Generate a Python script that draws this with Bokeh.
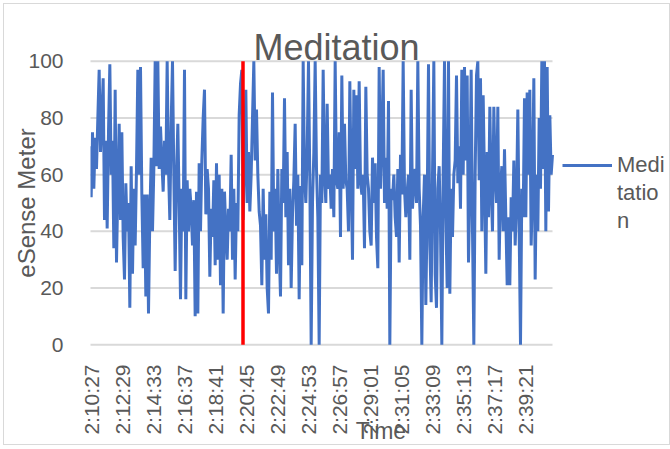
import math
from bokeh.plotting import figure
from bokeh.models import FixedTicker, Legend, LegendItem, Range1d
from bokeh.embed import file_html
from bokeh.resources import INLINE

# ---- data (eSense meditation values, 0-100) ----
meditation = [
    # 2:10 - 2:18
    65, 70, 52, 75, 55, 73, 62, 80, 97, 68, 80, 94, 44, 72, 41, 75, 99, 60, 72, 34,
    90, 29, 55, 78, 44, 75, 38, 23, 57, 40, 50, 13, 63, 25, 55, 35, 62, 97, 60, 98,
    53, 27, 53, 17, 53, 11, 45, 66, 40, 62, 100, 63, 100, 62, 77, 65, 54, 72, 60, 100,
    62, 44, 78, 100, 60, 26, 60, 78, 50, 16, 55, 40, 97, 16, 58, 40, 55, 48, 35, 51,
    10, 54, 11, 64, 40, 65, 80, 90, 46,
    # 2:18 - 2:26
    62, 55, 24, 48, 38, 58, 28, 64, 30, 60, 21, 55, 11, 54, 40, 30, 48, 40, 67, 30,
    55, 23, 50, 40, 81, 92, 97, 44, 65, 90, 50, 68, 47, 60, 80, 100, 65, 83, 60, 47,
    42, 21, 55, 30, 46, 20, 11, 54, 30, 89, 40, 55, 25, 62, 35, 17, 62, 50, 87, 45,
    68, 28, 55, 20, 46, 58, 78, 42, 60, 16, 56, 28, 100, 60, 50, 68, 100, 58, 0, 50,
    68, 100, 62, 45, 0, 60, 50,
    # 2:26 - 2:34
    97, 60, 50, 85, 55, 60, 48, 62, 45, 100, 58, 55, 75, 38, 95, 55, 78, 58, 55, 40,
    93, 58, 30, 90, 62, 88, 55, 93, 58, 53, 60, 34, 91, 60, 55, 40, 35, 66, 50, 64,
    38, 27, 98, 55, 72, 97, 50, 66, 48, 86, 0, 55, 51, 60, 45, 38, 62, 29, 67, 53,
    100, 55, 45, 54, 60, 30, 90, 48, 57, 62, 50, 100, 55, 42, 0, 45, 60, 14, 48, 99,
    35, 15, 60, 100, 25, 13, 55,
    # 2:34 - 2:41
    63, 40, 0, 60, 100, 45, 20, 100, 18, 55, 38, 60, 65, 95, 57, 70, 48, 97, 60, 98,
    65, 95, 29, 55, 97, 40, 0, 60, 95, 100, 58, 94, 40, 88, 58, 25, 68, 45, 84, 55,
    40, 84, 60, 50, 84, 30, 55, 63, 40, 69, 45, 21, 45, 21, 52, 40, 65, 35, 50, 83,
    40, 0, 55, 45, 87, 45, 89, 60, 90, 35, 55, 94, 23, 60, 40, 80, 55, 100, 62, 100,
    40, 98, 47, 81, 60, 67,
]
# sampling of the series, seconds after 2:10:27
sample_start_s = -12.0
sample_step_s = 16.0 / 3.0
time_s = [sample_start_s + i * sample_step_s for i in range(len(meditation))]

tick_seconds = [0, 122, 246, 370, 494, 618, 742, 866, 990, 1114, 1238, 1362, 1486, 1610, 1734]
tick_labels = ["2:10:27", "2:12:29", "2:14:33", "2:16:37", "2:18:41", "2:20:45", "2:22:49",
               "2:24:53", "2:26:57", "2:29:01", "2:31:05", "2:33:09", "2:35:13", "2:37:17",
               "2:39:21"]
y_ticks = [0, 20, 40, 60, 80, 100]

marker_time_s = [606, 606]
marker_values = [0, 100]

FONT = "Liberation Sans"
GREY = "#595959"
BLUE = "#4472C4"

# the frame also holds the legend area on the right; gridlines are drawn over the data span
p = figure(width=667, height=442, output_backend="svg", toolbar_location=None,
           x_range=Range1d(-4, 2320), y_range=Range1d(-1, 101),
           min_border_left=86, min_border_right=0, min_border_top=54, min_border_bottom=98,
           background_fill_color="white", border_fill_color="white",
           title="Meditation")
p.outline_line_color = None

grid_x0 = [time_s[0]] * len(y_ticks)
grid_x1 = [time_s[-1]] * len(y_ticks)
p.segment(grid_x0, y_ticks, grid_x1, y_ticks, line_color="#D9D9D9", line_width=2)

r_med = p.line(time_s, meditation, line_color=BLUE, line_width=3)
p.line(marker_time_s, marker_values, line_color="#FF0000", line_width=3.5)

# title
p.title.align = "left"
p.title.offset = 163
p.title.standoff = -18
p.title.text_font = FONT
p.title.text_font_size = "36px"
p.title.text_font_style = "normal"
p.title.text_color = GREY

# axes
p.xaxis.ticker = FixedTicker(ticks=tick_seconds)
p.xaxis.major_label_overrides = {t: lab for t, lab in zip(tick_seconds, tick_labels)}
p.xaxis.major_label_orientation = math.pi / 2
p.xaxis.major_label_standoff = 11
p.xaxis.axis_label = "Time"
p.xaxis.axis_label_standoff = -20
p.yaxis.ticker = FixedTicker(ticks=y_ticks)
p.yaxis.major_label_standoff = 21
p.yaxis.axis_label = "eSense Meter"
p.yaxis.axis_label_standoff = -15
for ax in (p.xaxis, p.yaxis):
    ax.axis_line_color = None
    ax.major_tick_line_color = None
    ax.minor_tick_line_color = None
    ax.major_label_text_font = FONT
    ax.major_label_text_font_size = "21px"
    ax.major_label_text_color = GREY
    ax.axis_label_text_font = FONT
    ax.axis_label_text_font_style = "normal"
    ax.axis_label_text_color = GREY
p.xaxis.axis_label_text_font_size = "23px"
p.yaxis.axis_label_text_font_size = "24px"

p.grid.visible = False

# legend (label wrapped as in the reference)
d1 = p.line([], [], line_alpha=0)
d2 = p.line([], [], line_alpha=0)
legend = Legend(items=[LegendItem(label="Medi", renderers=[r_med]),
                       LegendItem(label="tatio", renderers=[d1]),
                       LegendItem(label="n", renderers=[d2])],
                location=(472, 112), orientation="vertical",
                glyph_width=50, glyph_height=28, label_height=28, label_standoff=5,
                spacing=0, padding=0, margin=0, border_line_color=None,
                background_fill_alpha=0, label_text_font=FONT,
                label_text_font_size="22px", label_text_color=GREY)
p.add_layout(legend, "center")

p.styles = {"margin-left": "3px", "margin-top": "3px", "border": "1px solid #D9D9D9"}

open("out.html", "w").write(file_html(p, INLINE))
